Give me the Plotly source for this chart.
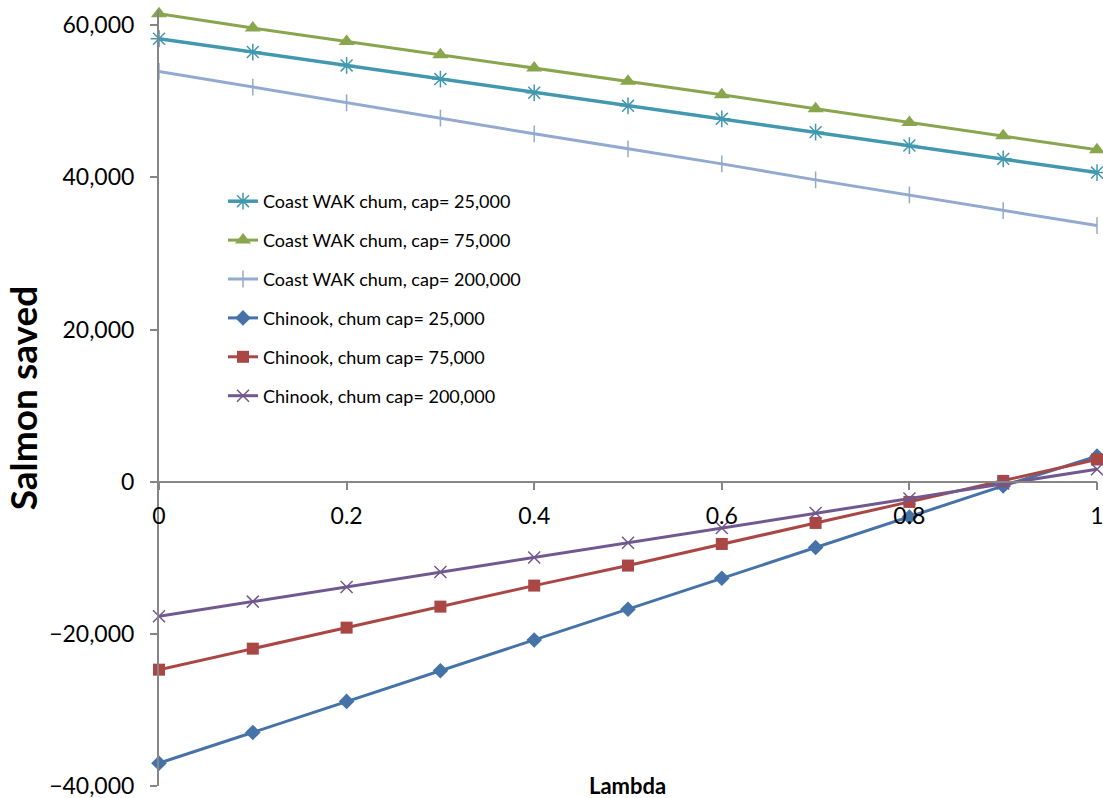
import plotly.graph_objects as go

lam = [0, 0.1, 0.2, 0.3, 0.4, 0.5, 0.6, 0.7, 0.8, 0.9, 1.0]

coast_25k = [58224, 56474, 54711, 52921, 51118, 49408, 47697, 45947, 44184, 42434, 40632]
coast_75k = [61513, 59632, 57868, 56118, 54368, 52632, 50855, 49013, 47210, 45460, 43618]
coast_200k = [53921, 51868, 49803, 47789, 45724, 43750, 41776, 39671, 37697, 35632, 33658]
chinook_25k = [-37000, -32961, -28882, -24842, -20816, -16776, -12697, -8658, -4632, -553, 3355]
chinook_75k = [-24711, -21947, -19184, -16421, -13658, -11026, -8184, -5421, -2658, 105, 2921]
chinook_200k = [-17697, -15763, -13842, -11868, -9974, -8026, -6079, -4105, -2211, -237, 1645]

names = [
    "Coast WAK chum, cap= 25,000",
    "Coast WAK chum, cap= 75,000",
    "Coast WAK chum, cap= 200,000",
    "Chinook, chum cap= 25,000",
    "Chinook, chum cap= 75,000",
    "Chinook, chum cap= 200,000",
]
y_ticks = [-40000, -20000, 0, 20000, 40000, 60000]
x_ticks = [0, 0.2, 0.4, 0.6, 0.8, 1]
x_ticktext = ["0", "0.2", "0.4", "0.6", "0.8", "1"]

FONT = "Lato"
series = [
    (coast_25k, "#4198AF", dict(symbol="asterisk-open", size=14, line=dict(width=1.5, color="#4198AF")), 3.5),
    (coast_75k, "#89A54E", dict(symbol="triangle-up", size=14), 3),
    (coast_200k, "#93A9CF", dict(symbol="line-ns-open", size=12, line=dict(width=1.5, color="#93A9CF")), 3),
    (chinook_25k, "#4572A7", dict(symbol="diamond", size=12), 3),
    (chinook_75k, "#AA4643", dict(symbol="square", size=12), 3),
    (chinook_200k, "#71588F", dict(symbol="x-thin-open", size=12, line=dict(width=1.5, color="#71588F")), 3),
]

fig = go.Figure()
for (vals, col, mk, lw), nm in zip(series, names):
    mk = dict(mk)
    mk.setdefault("color", col)
    fig.add_trace(go.Scatter(
        x=lam, y=vals, name=nm, mode="lines+markers",
        line=dict(color=col, width=lw), marker=mk, cliponaxis=False,
        legendgroup=nm,
    ))

yr = [-40000, 62000]
zero_pos = (0 - yr[0]) / (yr[1] - yr[0])

fig.update_layout(
    width=1103, height=798,
    margin=dict(l=159, r=6, t=10, b=12, autoexpand=False),
    paper_bgcolor="white", plot_bgcolor="white",
    font=dict(family=FONT, color="black"),
    showlegend=True,
    legend=dict(
        x=(223 - 159) / 938, y=(786 - 183) / 776, xanchor="left", yanchor="top",
        font=dict(size=18, family=FONT, color="black"),
        tracegroupgap=12.5, bgcolor="rgba(0,0,0,0)", itemwidth=30,
    ),
    xaxis=dict(
        range=[0, 1], tickvals=x_ticks, ticktext=x_ticktext,
        showgrid=False, zeroline=False, showline=True, linecolor="#868686", linewidth=1.5,
        ticks="outside", ticklen=8, tickwidth=1.5, tickcolor="#868686",
        tickfont=dict(size=23, family=FONT, color="black"),
        anchor="free", position=zero_pos, automargin=False, ticklabelstandoff=6,
        ticklabeloverflow="allow",
    ),
    yaxis=dict(
        range=yr, tickvals=y_ticks, tickformat=",d",
        showgrid=False, zeroline=False, showline=True, linecolor="#868686", linewidth=2,
        ticks="outside", ticklen=7, tickwidth=1.5, tickcolor="#868686",
        tickfont=dict(size=23, family=FONT, color="black"),
        ticklabelstandoff=11, automargin=False, ticklabeloverflow="allow",
        title=dict(text="<b>Salmon saved</b>", font=dict(size=37, family=FONT, color="black"), standoff=2),
    ),
    annotations=[dict(
        text="<b>Lambda</b>", xref="paper", yref="paper", x=(627 - 159) / 938, y=0, yshift=1,
        xanchor="center", yanchor="middle", showarrow=False,
        font=dict(size=22, family=FONT, color="black"),
    )],
)

fig.write_html(
    "out.html",
    config={"displayModeBar": False},
    post_script="document.body.style.margin='0';document.body.style.overflow='hidden';",
)
